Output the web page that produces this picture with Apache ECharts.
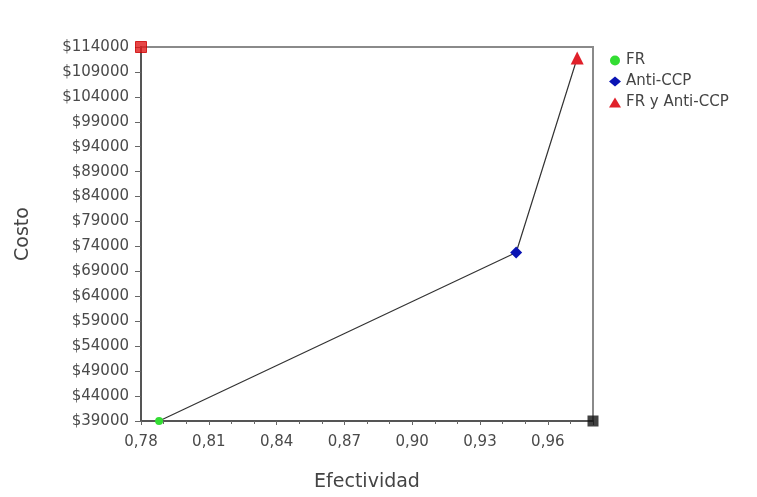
<!DOCTYPE html>
<html>
<head>
<meta charset="utf-8">
<script src="https://cdn.jsdelivr.net/npm/echarts@6/dist/echarts.min.js"></script>
<style>html,body{margin:0;padding:0;background:#fff}#c{width:757px;height:497px}</style>
</head>
<body>
<div id="c"></div>
<script>
// Data
const strategies = ['FR', 'Anti-CCP', 'FR y Anti-CCP'];
const effectiveness = [0.788, 0.946, 0.973];
const costs = [39000, 72800, 111800];
const xAxisRange = [0.78, 0.98];
const xTickStep = 0.03;
const yAxisRange = [39000, 114000];
const yTickStep = 5000;
const colors = ['#33dd33', '#0a14b4', '#e0202a'];
const symbols = ['circle', 'diamond', 'triangle'];
const symbolSizes = [8, 12, 13];

const chart = echarts.init(document.getElementById('c'), null, {renderer: 'canvas'});
const font = 'DejaVu Sans';

const series = [{
  name: 'frontier',
  type: 'line',
  data: effectiveness.map((x, i) => [x, costs[i]]),
  symbol: 'none',
  lineStyle: {color: '#333', width: 1.2},
  z: 2,
  silent: true
}];
strategies.forEach((s, i) => {
  series.push({
    name: s,
    type: 'scatter',
    data: [[effectiveness[i], costs[i]]],
    symbol: symbols[i],
    symbolSize: symbolSizes[i],
    itemStyle: {color: colors[i], opacity: 1},
    z: 5
  });
});
// corner handles seen in the reference
series.push({
  name: 'corners',
  type: 'scatter',
  data: [
    {value: [xAxisRange[0], yAxisRange[1]], itemStyle: {color: '#e01818', borderColor: '#c00', borderWidth: 1}},
    {value: [xAxisRange[1], yAxisRange[0]], itemStyle: {color: '#111'}}
  ],
  symbol: 'rect',
  symbolSize: 11,
  z: 6,
  silent: true
});

chart.setOption({
  animation: false,
  backgroundColor: '#fff',
  grid: {left: 141, right: 164, top: 47, bottom: 75, show: true, borderColor: '#8a8a8a', borderWidth: 2, backgroundColor: 'transparent'},
  legend: {
    data: strategies,
    orient: 'vertical',
    left: 604,
    top: 48,
    itemGap: 6,
    itemWidth: 12,
    itemHeight: 10,
    textStyle: {fontFamily: font, fontSize: 15, color: '#444'}
  },
  xAxis: {
    type: 'value',
    min: xAxisRange[0],
    max: xAxisRange[1],
    interval: xTickStep,
    name: 'Efectividad',
    nameLocation: 'middle',
    nameGap: 52,
    nameTextStyle: {fontFamily: font, fontSize: 19, color: '#444'},
    axisLine: {lineStyle: {color: '#555', width: 2}},
    axisTick: {show: true, inside: false, length: 4, lineStyle: {color: '#666'}},
    minorTick: {show: true, splitNumber: 3, length: 3, lineStyle: {color: '#666'}},
    splitLine: {show: false},
    axisLabel: {
      fontFamily: font, fontSize: 15, color: '#4a4a4a', margin: 14,
      showMaxLabel: false,
      formatter: v => v.toFixed(2).replace('.', ',')
    }
  },
  yAxis: {
    type: 'value',
    min: yAxisRange[0],
    max: yAxisRange[1],
    interval: yTickStep,
    name: 'Costo',
    nameLocation: 'middle',
    nameGap: 108,
    nameRotate: 90,
    nameTextStyle: {fontFamily: font, fontSize: 19, color: '#444'},
    axisLine: {lineStyle: {color: '#555', width: 2}},
    axisTick: {show: true, length: 6, lineStyle: {color: '#666'}},
    splitLine: {show: false},
    axisLabel: {
      fontFamily: font, fontSize: 15, color: '#4a4a4a', margin: 12,
      formatter: v => '$' + Math.round(v)
    }
  },
  series: series
});
</script>
</body>
</html>
